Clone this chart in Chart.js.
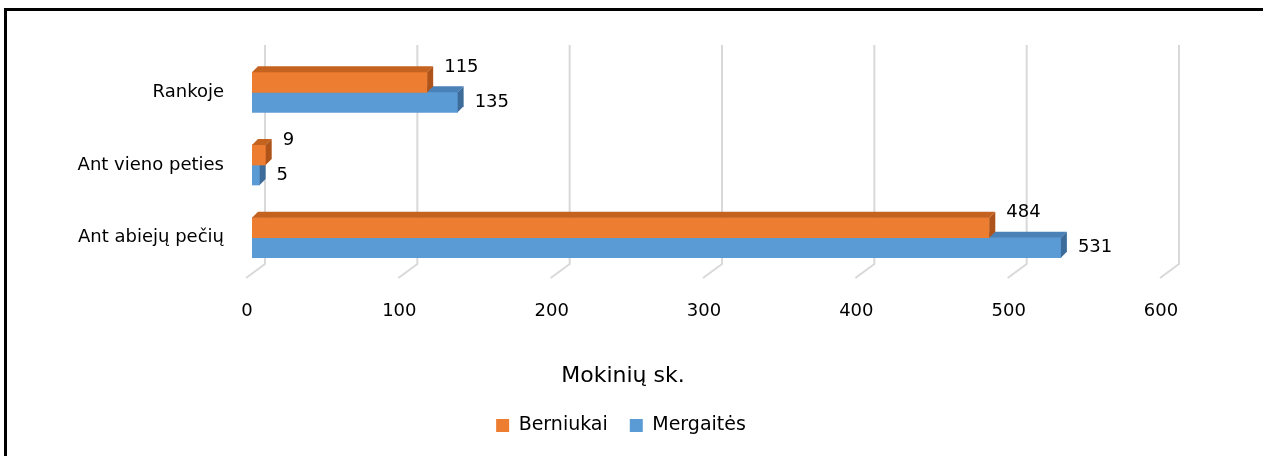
<!DOCTYPE html>
<html>
<head>
<meta charset="utf-8">
<script src="https://cdn.jsdelivr.net/npm/chart.js@4/dist/chart.umd.min.js"></script>
<style>
  body { margin: 0; background: #fff; }
  #wrap { width: 1263px; height: 456px; }
</style>
</head>
<body>
<div id="wrap"><canvas id="myChart" width="1263" height="456"></canvas></div>
<script>
// data
var categories = ['Rankoje', 'Ant vieno peties', 'Ant abiejų pečių'];
var berniukai = [115, 9, 484];
var mergaites = [135, 5, 531];
var xTicks = [0, 100, 200, 300, 400, 500, 600];
var axisTitle = 'Mokinių sk.';

var FONT = '"DejaVu Sans", sans-serif';
var DEPTH = 6;

// darker faces for the fake 3d look
var faceColors = [
  { top: '#c4621f', side: '#ae5319' },
  { top: '#4a82b8', side: '#3d6c9a' }
];

var frame3d = {
  id: 'frame3d',
  beforeDraw(chart) {
    let ctx = chart.ctx;
    ctx.save();
    ctx.fillStyle = '#fff';
    ctx.fillRect(0, 0, chart.width, chart.height);
    // outer frame, only top and left show in the picture
    ctx.fillStyle = '#000';
    ctx.fillRect(4, 8, chart.width - 4, 3);
    ctx.fillRect(4, 8, 3, chart.height - 8);
    ctx.restore();
  },
  beforeDatasetsDraw(chart) {
    let ctx = chart.ctx;
    let x = chart.scales.x;
    ctx.save();
    ctx.strokeStyle = '#d9d9d9';
    ctx.lineWidth = 2;
    xTicks.forEach(v => {
      let px = x.getPixelForValue(v);
      ctx.beginPath();
      ctx.moveTo(px + 13, 45);
      ctx.lineTo(px + 13, 264);
      ctx.lineTo(px - 6, 278);
      ctx.stroke();
    });
    ctx.restore();
  },
  afterDatasetDraw(chart, args) {
    let ctx = chart.ctx;
    let c = faceColors[args.index];
    ctx.save();
    args.meta.data.forEach(bar => {
      let p = bar.getProps(['x', 'y', 'base', 'height'], true);
      let l = p.base, r = p.x, t = p.y - p.height / 2, b = p.y + p.height / 2;
      ctx.fillStyle = c.top;
      ctx.beginPath();
      ctx.moveTo(l, t);
      ctx.lineTo(l + DEPTH, t - DEPTH);
      ctx.lineTo(r + DEPTH, t - DEPTH);
      ctx.lineTo(r, t);
      ctx.closePath();
      ctx.fill();
      ctx.fillStyle = c.side;
      ctx.beginPath();
      ctx.moveTo(r, t);
      ctx.lineTo(r + DEPTH, t - DEPTH);
      ctx.lineTo(r + DEPTH, b - DEPTH);
      ctx.lineTo(r, b);
      ctx.closePath();
      ctx.fill();
    });
    ctx.restore();
  },
  afterDatasetsDraw(chart) {
    let ctx = chart.ctx;
    ctx.save();
    ctx.font = '18px ' + FONT;
    ctx.fillStyle = '#000';
    ctx.textBaseline = 'middle';
    ctx.textAlign = 'left';
    chart.data.datasets.forEach((ds, i) => {
      let meta = chart.getDatasetMeta(i);
      meta.data.forEach((bar, j) => {
        let shift = i == 0 ? -15 : 0;
        ctx.fillText(String(ds.data[j]), bar.x + DEPTH + 11, bar.y + shift);
      });
    });
    // axis title sits left of the plot centre in the picture
    ctx.font = '22px ' + FONT;
    ctx.textAlign = 'center';
    ctx.fillText(axisTitle, 623, 376);
    ctx.restore();
  }
};

new Chart('myChart', {
  type: 'bar',
  data: {
    labels: categories,
    datasets: [
      { label: 'Berniukai', data: berniukai, backgroundColor: '#ed7d31', barThickness: 20 },
      { label: 'Mergaitės', data: mergaites, backgroundColor: '#5b9bd5', barThickness: 20 }
    ]
  },
  options: {
    indexAxis: 'y',
    responsive: false,
    animation: false,
    layout: { padding: { top: 56, right: 97, bottom: 11, left: 76 } },
    scales: {
      x: {
        min: 0, max: 600,
        grid: { display: false, drawTicks: false },
        border: { display: false },
        ticks: { stepSize: 100, padding: 27, labelOffset: -5, color: '#000', font: { family: FONT, size: 18 } },
        afterFit(s) { s.height = 120; }
      },
      y: {
        grid: { display: false, drawTicks: false },
        border: { display: false },
        ticks: { padding: 28, color: '#000', font: { family: FONT, size: 18 } },
        afterFit(s) { s.width = 176; }
      }
    },
    plugins: {
      legend: {
        position: 'bottom',
        labels: { boxWidth: 13, boxHeight: 13, padding: 22, color: '#000', font: { family: FONT, size: 19 } }
      },
      tooltip: { enabled: false }
    }
  },
  plugins: [frame3d]
});
</script>
</body>
</html>
